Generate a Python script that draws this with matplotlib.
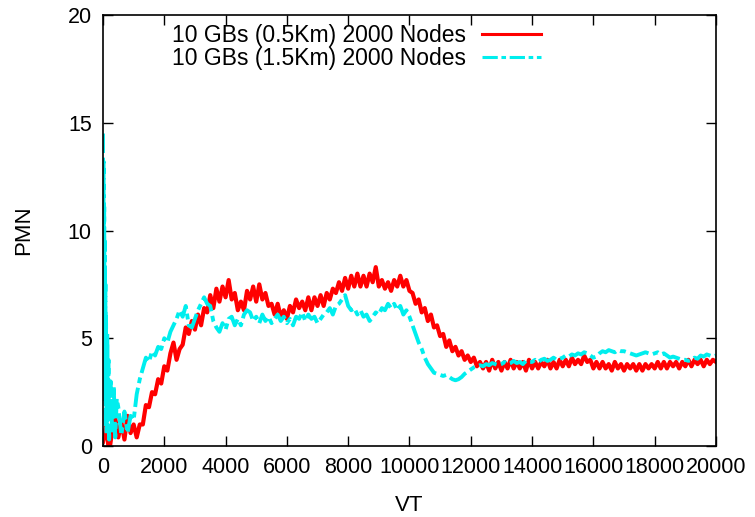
import numpy as np
import matplotlib
matplotlib.use("Agg")
import matplotlib.pyplot as plt

plt.rcParams['font.family'] = ['Liberation Sans', 'DejaVu Sans']

# 10 GBs (0.5Km): sampled every 100 VT
vt_red = np.arange(0, 20001, 100)
pmn_red = [
    0.2, 0.9, -0.3, 0.7, 1.3, 0.4, 1.1, 0.3, 1.4, 0.6,   # 0-900
    1.0, 0.4, 1.0, 1.0, 1.9, 1.8, 2.5, 2.4, 3.1, 2.9,    # 1000-1900
    3.7, 3.5, 4.3, 4.8, 4.0, 4.5, 4.7, 5.5, 5.2, 5.8,    # 2000-2900
    5.4, 6.1, 5.6, 6.4, 6.2, 7.0, 6.4, 7.3, 6.7, 7.4,    # 3000-3900
    6.9, 7.7, 6.8, 7.1, 6.3, 6.7, 6.3, 7.2, 6.8, 7.4,    # 4000-4900
    6.7, 7.5, 6.8, 7.1, 6.5, 6.6, 6.1, 6.6, 6.0, 6.3,    # 5000-5900
    5.9, 6.5, 6.2, 6.8, 6.4, 6.7, 6.3, 6.9, 6.3, 6.9,    # 6000-6900
    6.5, 7.0, 6.5, 7.1, 6.8, 7.3, 7.1, 7.6, 7.2, 7.8,    # 7000-7900
    7.3, 7.9, 7.4, 8.0, 7.4, 7.9, 7.4, 8.0, 7.6, 8.3,    # 8000-8900
    7.4, 7.7, 7.3, 7.6, 7.2, 7.7, 7.4, 7.9, 7.4, 7.7,    # 9000-9900
    7.2, 7.1, 6.6, 6.8, 6.2, 6.4, 5.8, 6.1, 5.5, 5.6,    # 10000-10900
    5.1, 5.2, 4.6, 4.9, 4.4, 4.6, 4.2, 4.4, 4.0, 4.2,    # 11000-11900
    3.9, 4.1, 3.7, 3.9, 3.6, 3.9, 3.5, 4.0, 3.6, 3.9,    # 12000-12900
    3.5, 3.9, 3.6, 4.0, 3.6, 3.9, 3.6, 3.9, 3.5, 4.0,    # 13000-13900
    3.6, 3.9, 3.6, 3.9, 3.7, 4.0, 3.6, 3.9, 3.6, 4.0,    # 14000-14900
    3.7, 4.0, 3.7, 4.1, 3.8, 4.0, 3.8, 4.2, 3.9, 4.0,    # 15000-15900
    3.6, 3.9, 3.6, 3.9, 3.6, 3.8, 3.5, 3.9, 3.6, 3.8,    # 16000-16900
    3.5, 3.8, 3.6, 3.8, 3.5, 3.8, 3.5, 3.8, 3.6, 3.8,    # 17000-17900
    3.6, 3.9, 3.6, 3.9, 3.6, 3.9, 3.7, 3.9, 3.6, 3.9,    # 18000-18900
    3.7, 4.0, 3.7, 4.0, 3.8, 4.0, 3.7, 4.0, 3.8, 4.0,    # 19000-19900
    3.9,
]

# 10 GBs (1.5Km): dense start, then every 100 VT
vt_cyan = [0, 10, 20, 30, 40, 50, 60, 70, 80, 90, 100, 120, 140, 160, 180,
           200, 250, 300, 350, 400, 450] + list(range(500, 20001, 100))
pmn_cyan = [
    14.5, 3.0, 13.2, 5.0, 11.1, 4.0, 9.5, 2.0, 7.5, 1.0, 6.0, 0.5, 5.2, 1.2, 4.0,
    0.3, 3.0, 0.6, 2.8, 0.4, 2.2,
    1.8, 0.5, 1.6, 0.6, 1.4,                              # 500-900
    1.2, 2.4, 3.1, 3.6, 4.1, 3.9, 4.4, 4.2, 4.6, 4.5,    # 1000-1900
    5.0, 4.8, 5.3, 5.6, 5.9, 6.3, 6.0, 6.5, 5.6, 5.5,    # 2000-2900
    5.9, 6.3, 6.6, 6.9, 6.6, 6.5, 5.8, 5.5, 5.3, 5.7,    # 3000-3900
    5.4, 5.9, 6.0, 5.6, 5.9, 5.6, 6.1, 6.3, 6.2, 5.8,    # 4000-4900
    6.0, 5.7, 6.1, 5.8, 6.0, 5.7, 5.9, 6.1, 5.8, 6.0,    # 5000-5900
    5.7, 5.9, 5.6, 6.0, 5.9, 6.2, 5.8, 6.1, 5.9, 6.0,    # 6000-6900
    5.7, 5.9, 6.1, 6.2, 6.4, 6.1, 6.5, 6.6, 6.8, 7.0,    # 7000-7900
    6.5, 6.3, 6.4, 6.1, 6.3, 6.0, 6.1, 5.8, 6.0, 6.2,    # 8000-8900
    6.1, 6.4, 6.3, 6.6, 6.4, 6.6, 6.3, 6.5, 6.1, 6.3,    # 9000-9900
    6.0, 5.6, 5.2, 4.8, 4.5, 4.1, 3.8, 3.6, 3.4, 3.35,   # 10000-10900
    3.3, 3.25, 3.3, 3.2, 3.1, 3.05, 3.1, 3.2, 3.35, 3.45,  # 11000-11900
    3.55, 3.65, 3.7, 3.75, 3.7, 3.8, 3.75, 3.85, 3.8, 3.75,  # 12000-12900
    3.8, 3.9, 3.8, 3.85, 3.95, 3.85, 3.9, 3.8, 3.95, 3.9,  # 13000-13900
    3.9, 4.0, 3.9, 4.0, 4.05, 3.95, 4.0, 4.1, 4.0, 4.05,   # 14000-14900
    4.1, 4.2, 4.15, 4.25, 4.2, 4.3, 4.25, 4.35, 4.3, 4.2,  # 15000-15900
    4.1, 4.15, 4.3, 4.4, 4.35, 4.45, 4.4, 4.35, 4.45, 4.4,  # 16000-16900
    4.4, 4.35, 4.3, 4.25, 4.2, 4.25, 4.3, 4.35, 4.3, 4.25,  # 17000-17900
    4.3, 4.35, 4.25, 4.3, 4.2, 4.1, 4.15, 4.1, 4.05, 4.0,  # 18000-18900
    4.0, 3.95, 4.0, 4.1, 4.05, 4.2, 4.15, 4.25, 4.2, 4.15,  # 19000-19900
    4.2,
]

fig = plt.figure(figsize=(7.55, 5.17), dpi=100)
ax = fig.add_axes([0.1364, 0.1373, 0.8119, 0.8337])

ax.plot(vt_red, pmn_red, color="#ff0000", lw=3.0,
        label="10 GBs (0.5Km) 2000 Nodes")
ax.plot(vt_cyan, pmn_cyan, color="#00eeee", lw=2.8, dashes=(5, 1.2, 1.5, 1.2),
        label="10 GBs (1.5Km) 2000 Nodes")

ax.set_xlim(0, 20000)
ax.set_ylim(0, 20)
ax.set_xticks(np.arange(0, 20001, 2000))
ax.set_yticks([0, 5, 10, 15, 20])
ax.tick_params(direction="in", top=True, right=True, length=7, width=1,
               labelsize=15.5, pad=8)
for s in ax.spines.values():
    s.set_linewidth(1.2)

ax.set_xlabel("VT", fontsize=16, labelpad=12)
ax.set_ylabel("PMN", fontsize=16, labelpad=24)

leg = ax.legend(loc="upper right", bbox_to_anchor=(0.715, 0.978), frameon=False,
                fontsize=16.5, markerfirst=False, handlelength=2.6,
                handletextpad=0.7, borderaxespad=0, borderpad=0,
                labelspacing=0.0)
for h in leg.legend_handles:
    h.set_linewidth(2.2)

fig.savefig("out.png", dpi=100)
